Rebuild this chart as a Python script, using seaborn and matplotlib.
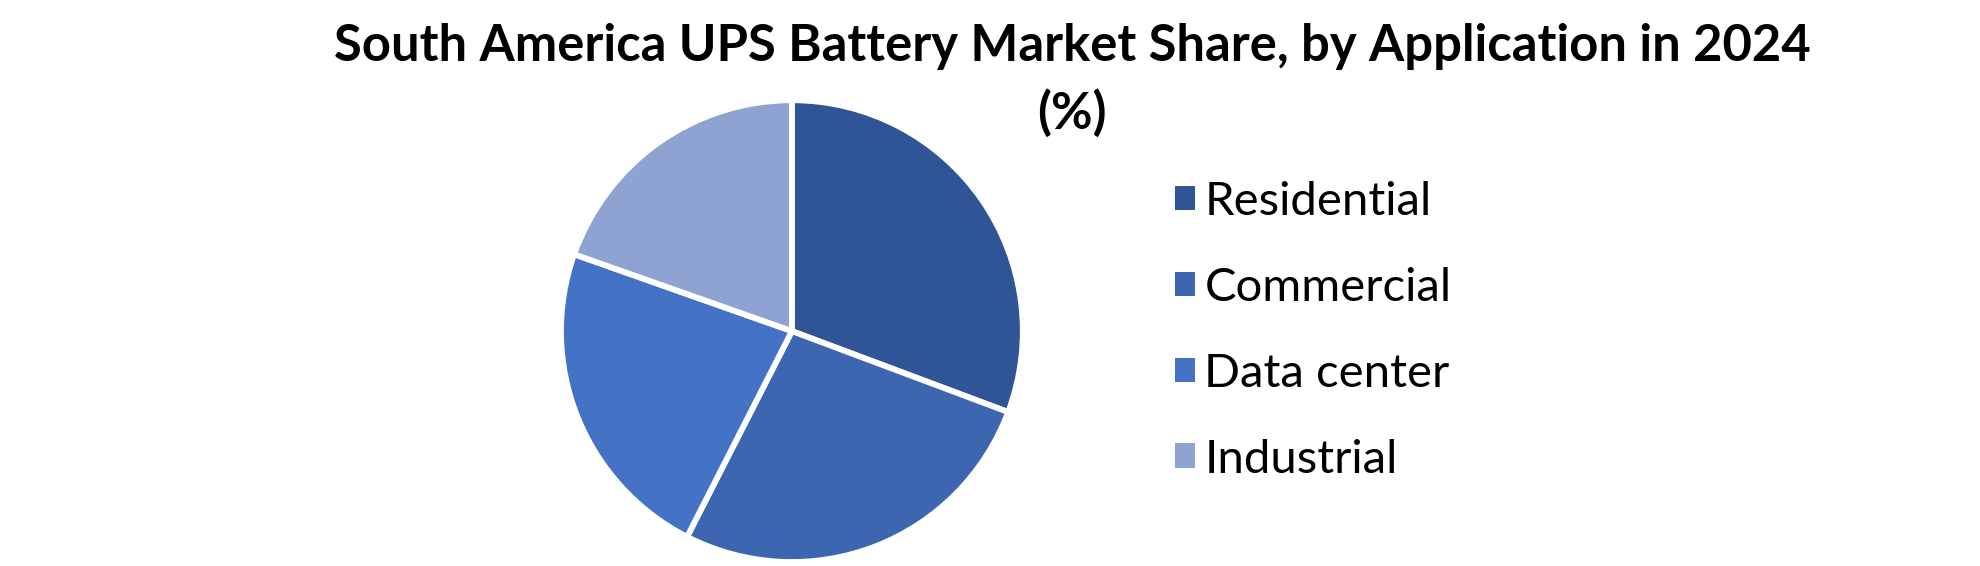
import matplotlib
matplotlib.use("Agg")
import matplotlib.pyplot as plt
import seaborn as sns

categories = ["Residential", "Commercial", "Data center", "Industrial"]
shares = [30.7, 26.8, 22.9, 19.6]
colors = ["#2F5597", "#3C66AF", "#4472C4", "#8FA3D3"]
title_line1 = "South America UPS Battery Market Share, by Application in 2024"
title_line2 = "(%)"

sns.set_theme(style="white")
plt.rcParams["font.family"] = ["Lato", "DejaVu Sans"]

fig = plt.figure(figsize=(19.8, 5.66), dpi=100)
ax = fig.add_axes([0.2833, 0.007, 0.2333, 0.816])
wedges, _ = ax.pie(shares, colors=colors, startangle=90, counterclock=False,
                   wedgeprops=dict(edgecolor="white", linewidth=4.2))
ax.set_xlim(-1.0, 1.0)
ax.set_ylim(-1.0, 1.0)
ax.set_aspect("equal")
ax.axis("off")

fig.text(0.5415, 0.9175, title_line1, ha="center", va="center", fontsize=36.5,
         fontweight="bold", color="black")
fig.text(0.5415, 0.80, title_line2, ha="center", va="center", fontsize=36.5,
         fontweight="bold", color="black")

leg = fig.legend(wedges, categories, loc="upper left",
                 bbox_to_anchor=(0.584, 0.714), frameon=False,
                 fontsize=34, handlelength=0.42, handleheight=0.42,
                 handletextpad=0.2, labelspacing=0.93, borderaxespad=0)
for t in leg.get_texts():
    t.set_color("black")
for h in leg.legend_handles:
    h.set_edgecolor("none")
fig.savefig("out.png", dpi=100, facecolor="white")
